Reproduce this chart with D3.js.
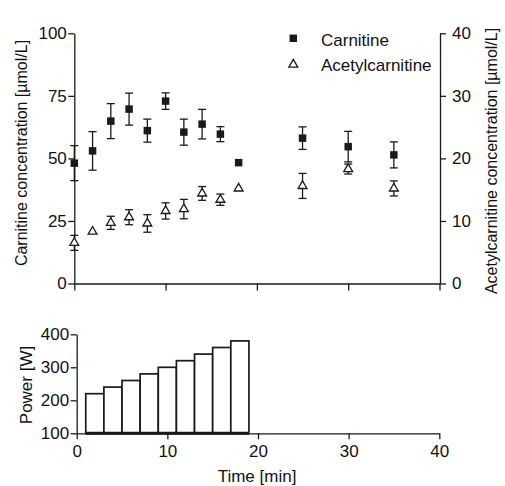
<!DOCTYPE html>
<html><head><meta charset="utf-8">
<script src="https://cdn.jsdelivr.net/npm/d3@7"></script>
<style>body{margin:0;background:#fff}svg{display:block}text{font-family:"Liberation Sans",Arial,sans-serif;fill:#111}</style>
</head><body><svg id="c" width="505" height="486"></svg>
<script>
const times = [0,2,4,6,8,10,12,14,16,18,25,30,35];
const carnitine = [48.1,53,64.9,69.7,61.1,72.9,60.5,63.7,59.7,48.3,58.1,54.7,51.4];
const carnitineErr = [7,7.7,7,6.4,4.6,3.3,5.2,5.9,3,0,4.5,6.1,5.2];
const acetyl = [6.5,8.3,9.7,10.6,9.6,11.6,11.9,14.4,13.4,15.2,15.6,18.3,15.2];
const acetylErr = [1.2,0,1.05,1.2,1.4,1.3,1.55,1.1,0.9,0,2.0,0.8,1.2];
const stageStart = [1,3,5,7,9,11,13,15,17];
const stageEnd = [3,5,7,9,11,13,15,17,19];
const power = [220,240,260,280,300,320,340,360,380];
const xTicks = [0,10,20,30,40];
const leftTicks = [0,25,50,75,100];
const rightTicks = [0,10,20,30,40];
const powerTicks = [100,200,300,400];
const seriesNames = ["Carnitine","Acetylcarnitine"];

const svg = d3.select("#c");
const ink = "#1a1a1a";
const FS = 17;

// Top panel scales
const x1 = d3.scaleLinear().domain([0,40]).range([74.3,439.5]);
const yL = d3.scaleLinear().domain([0,100]).range([283.5,33.3]);
const yR = d3.scaleLinear().domain([0,40]).range([283.5,33.3]);

function styleAxis(g){
  g.selectAll("path,line").attr("stroke",ink).attr("stroke-width",1.3);
  g.selectAll("text").attr("font-size",FS).attr("fill",ink).style("font-family","'Liberation Sans',Arial,sans-serif");
}

svg.append("g").attr("transform","translate(74.3,0)")
  .call(d3.axisLeft(yL).tickValues(leftTicks).tickSize(6).tickSizeOuter(0).tickPadding(1.5))
  .call(styleAxis);
svg.append("g").attr("transform","translate(440,0)")
  .call(d3.axisRight(yR).tickValues(rightTicks).tickSize(6).tickSizeOuter(0).tickPadding(6))
  .call(styleAxis);
svg.append("g").attr("transform","translate(0,283.5)")
  .call(d3.axisBottom(x1).tickValues(xTicks).tickSize(7).tickSizeOuter(0).tickFormat(""))
  .call(styleAxis);

// error bars
function errBars(vals, errs, y){
  const g = svg.append("g").attr("stroke",ink).attr("stroke-width",1.3).attr("fill","none");
  times.forEach((t,i)=>{
    if(!errs[i]) return;
    const cx = x1(t), y0 = y(vals[i]-errs[i]), y1 = y(vals[i]+errs[i]);
    g.append("line").attr("x1",cx).attr("x2",cx).attr("y1",y0).attr("y2",y1);
    g.append("line").attr("x1",cx-4).attr("x2",cx+4).attr("y1",y0).attr("y2",y0);
    g.append("line").attr("x1",cx-4).attr("x2",cx+4).attr("y1",y1).attr("y2",y1);
  });
}
errBars(carnitine, carnitineErr, yL);
errBars(acetyl, acetylErr, yR);

const sq = d3.symbol().type(d3.symbolSquare).size(56);
const tri = d3.symbol().type(d3.symbolTriangle).size(34);

svg.append("g").selectAll("path").data(times).join("path")
  .attr("d",sq).attr("transform",(d,i)=>`translate(${x1(d)},${yL(carnitine[i])})`)
  .attr("fill",ink);
svg.append("g").selectAll("path").data(times).join("path")
  .attr("d",tri).attr("transform",(d,i)=>`translate(${x1(d)},${yR(acetyl[i])})`)
  .attr("fill","#fff").attr("stroke",ink).attr("stroke-width",1.3);

// legend
const leg = svg.append("g");
leg.append("path").attr("d",sq).attr("transform","translate(293.3,38.3)").attr("fill",ink);
leg.append("path").attr("d",tri).attr("transform","translate(293.3,64.5)").attr("fill","#fff").attr("stroke",ink).attr("stroke-width",1.3);
leg.append("text").attr("x",321).attr("y",45.5).attr("font-size",FS).text(seriesNames[0]);
leg.append("text").attr("x",321).attr("y",70.5).attr("font-size",FS).text(seriesNames[1]);

// axis titles
svg.append("text").attr("transform","translate(26.5,153) rotate(-90)").attr("text-anchor","middle")
  .attr("font-size",16).text("Carnitine concentration [\u00b5mol/L]");
svg.append("text").attr("transform","translate(497,161) rotate(-90)").attr("text-anchor","middle")
  .attr("font-size",16).text("Acetylcarnitine concentration [\u00b5mol/L]");

// Bottom panel
const x2 = d3.scaleLinear().domain([0,40]).range([76.7,439.3]);
const yP = d3.scaleLinear().domain([100,400]).range([433.3,334.3]);

svg.append("g").selectAll("rect").data(power).join("rect")
  .attr("x",(d,i)=>x2(stageStart[i])).attr("width",(d,i)=>x2(stageEnd[i])-x2(stageStart[i]))
  .attr("y",d=>yP(d)).attr("height",d=>yP(100)-yP(d))
  .attr("fill","#fff").attr("stroke",ink).attr("stroke-width",1.7);
svg.append("line").attr("x1",x2(stageStart[0])).attr("x2",x2(stageEnd[stageEnd.length-1]))
  .attr("y1",yP(100)).attr("y2",yP(100)).attr("stroke",ink).attr("stroke-width",3);

svg.append("g").attr("transform","translate(76.7,0)")
  .call(d3.axisLeft(yP).tickValues(powerTicks).tickSize(6).tickSizeOuter(0).tickPadding(1.5))
  .call(styleAxis);
svg.append("g").attr("transform","translate(0,433.3)")
  .call(d3.axisBottom(x2).tickValues(xTicks).tickSize(6).tickSizeOuter(0).tickPadding(6))
  .call(styleAxis);

svg.append("text").attr("transform","translate(31.5,385) rotate(-90)").attr("text-anchor","middle")
  .attr("font-size",FS).text("Power [W]");
svg.append("text").attr("x",257).attr("y",482).attr("text-anchor","middle")
  .attr("font-size",FS).text("Time [min]");
</script></body></html>
